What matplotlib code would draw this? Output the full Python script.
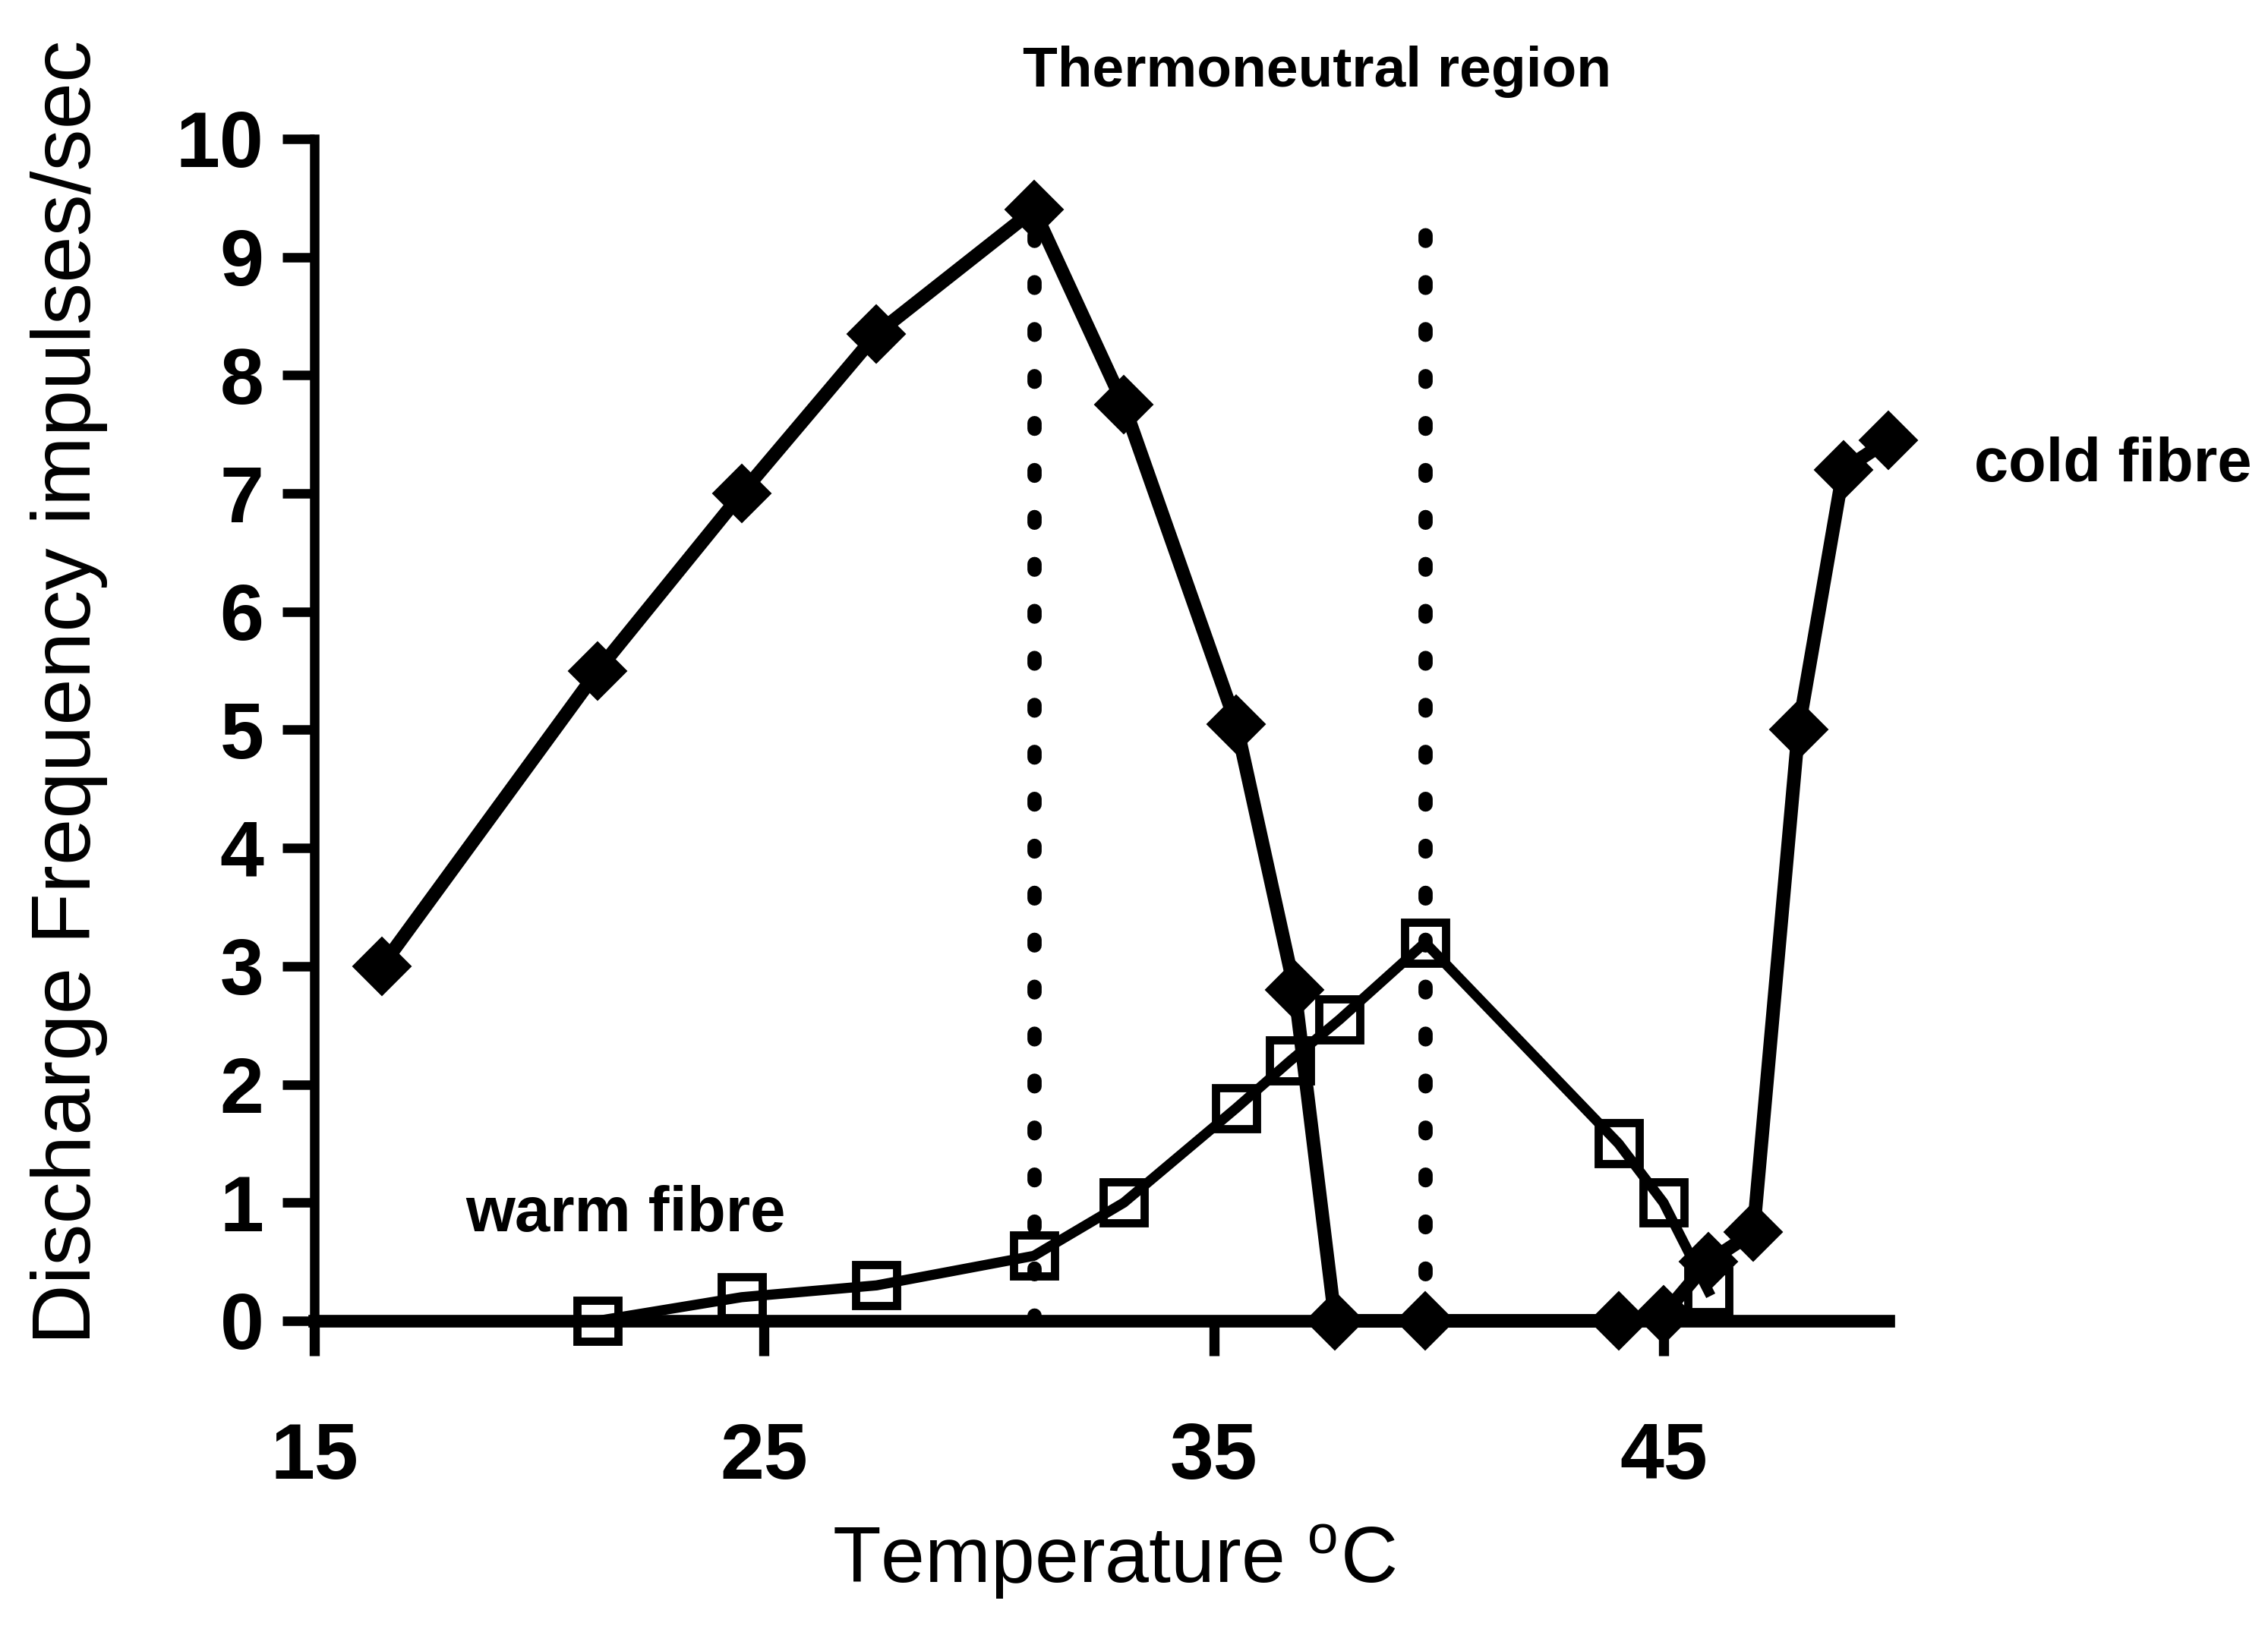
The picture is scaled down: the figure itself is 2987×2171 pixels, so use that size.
#!/usr/bin/env python3
"""Cold and warm fibre discharge frequency against temperature."""

import matplotlib

matplotlib.use("Agg")
import matplotlib.pyplot as plt

plt.rcParams["font.family"] = ["Liberation Sans", "DejaVu Sans"]
plt.rcParams["mathtext.default"] = "regular"

# cold fibre (filled diamonds)
cold_temp = [16.5, 21.3, 24.5, 27.5, 31.0, 33.0, 35.5, 36.8, 37.7, 39.7,
             44.0, 45.0, 46.0, 47.0, 48.0, 49.0, 50.0]
cold_freq = [3.0, 5.5, 7.0, 8.35, 9.4, 7.75, 5.05, 2.8, 0.0, 0.0,
             0.0, 0.05, 0.5, 0.75, 5.0, 7.2, 7.45]

# warm fibre (open squares)
warm_temp = [21.3, 24.5, 27.5, 31.0, 33.0, 35.5, 36.7, 37.8, 39.7, 44.0, 45.0, 46.0]
warm_freq = [0.0, 0.2, 0.3, 0.55, 1.0, 1.8, 2.2, 2.55, 3.2, 1.5, 1.0, 0.25]

# thermoneutral region bounds
neutral_temp = [31.0, 39.7]
neutral_top = 9.4

x_ticks = [15, 25, 35, 45]
y_ticks = list(range(0, 11))

W, H, DPI = 2987, 2171, 300
fig = plt.figure(figsize=(W / DPI, H / DPI), dpi=DPI)
ax = fig.add_axes([414 / W, 431 / H, (2487 - 414) / W, (1740 - 183) / H])

for t in neutral_temp:
    ax.plot([t, t], [0, neutral_top], color="black", lw=4.5,
            dashes=(0.4, 2.9), dash_capstyle="round", zorder=2)

ax.plot(warm_temp, warm_freq, color="black", lw=3.2, marker="s", ms=13,
        mfc="none", mec="black", mew=2.6, zorder=3, clip_on=False)
ax.plot(cold_temp, cold_freq, color="black", lw=4.3, marker="D", ms=12,
        mfc="black", mec="black", mew=1.5, zorder=4, clip_on=False)

ax.set_xlim(15, 50)
ax.set_ylim(0, 10)
ax.set_xticks(x_ticks, labels=[str(v) for v in x_ticks], fontweight="bold")
ax.set_yticks(y_ticks, labels=[str(v) for v in y_ticks], fontweight="bold")
ax.tick_params(axis="x", direction="out", length=11, width=3.2, labelsize=25, pad=21)
ax.tick_params(axis="y", direction="out", length=10, width=3.0, labelsize=25, pad=6)

for side in ("top", "right"):
    ax.spines[side].set_visible(False)
ax.spines["left"].set_linewidth(3.0)
ax.spines["bottom"].set_linewidth(4.0)

ax.text(37.3, 10.57, "Thermoneutral region", fontsize=18, fontweight="bold",
        ha="center", va="center", clip_on=False)
ax.text(51.9, 7.24, "cold fibre", fontsize=19.5, fontweight="bold",
        ha="left", va="center", clip_on=False)
ax.text(18.37, 0.9, "warm fibre", fontsize=20, fontweight="bold",
        ha="left", va="center", clip_on=False)

fig.text(1467 / W, 1 - 2057 / H, "Temperature $^{o}$C", fontsize=25,
         ha="center", va="center")
fig.text(91 / W, 1 - 912 / H, "Discharge Frequency impulses/sec", fontsize=26.5,
         rotation=90, ha="center", va="center")

fig.savefig("out.png", dpi=DPI)
